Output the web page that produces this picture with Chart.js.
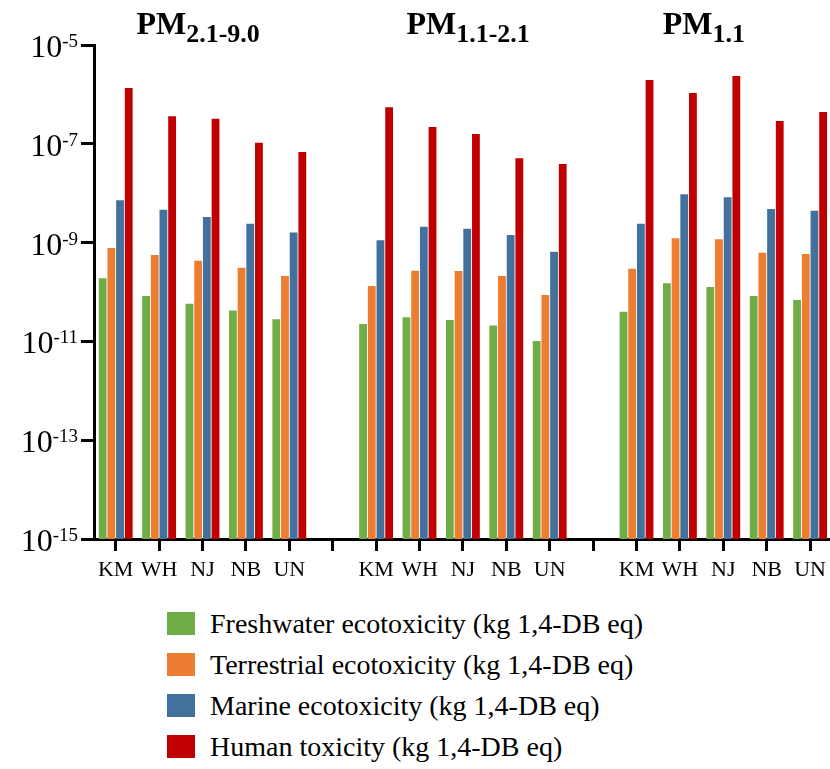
<!DOCTYPE html>
<html>
<head>
<meta charset="utf-8">
<script src="https://cdn.jsdelivr.net/npm/chart.js@4"></script>
<style>
  html, body { margin: 0; padding: 0; background: #fff; overflow: hidden; }
  #wrap { position: relative; width: 832px; height: 769px; }
  #legend { position: absolute; left: 167px; top: 603px; margin: 0; padding: 0; list-style: none; }
  #legend li {
    display: flex; align-items: center; height: 41px;
    font-family: "Liberation Serif", "Times New Roman", Times, serif;
    font-size: 28px; color: #000; white-space: nowrap;
  }
  #legend span.box { display: inline-block; width: 28px; height: 23px; margin-right: 15px; }
</style>
</head>
<body>
<div id="wrap">
  <canvas id="myChart" width="832" height="600"></canvas>
  <ul id="legend"></ul>
</div>
<script>
(function () {
  "use strict";

  // sites in each size fraction, and the fractions
  const sites = ["KM", "WH", "NJ", "NB", "UN"];
  const fractionSubs = ["2.1-9.0", "1.1-2.1", "1.1"];

  // values per series: PM2.1-9.0 (5), PM1.1-2.1 (5), PM1.1 (5)
  const freshwater = [1.9e-10, 8.3e-11, 5.8e-11, 4.2e-11, 2.8e-11,
                      2.24e-11, 3.1e-11, 2.7e-11, 2.1e-11, 1.02e-11,
                      4.0e-11, 1.5e-10, 1.26e-10, 8.3e-11, 6.9e-11];
  const terrestrial = [7.8e-10, 5.6e-10, 4.3e-10, 3.1e-10, 2.1e-10,
                       1.32e-10, 2.7e-10, 2.65e-10, 2.1e-10, 8.7e-11,
                       2.95e-10, 1.23e-9, 1.17e-9, 6.2e-10, 5.9e-10];
  const marine = [7.2e-9, 4.6e-9, 3.3e-9, 2.4e-9, 1.6e-9,
                  1.12e-9, 2.1e-9, 1.9e-9, 1.42e-9, 6.5e-10,
                  2.4e-9, 9.5e-9, 8.3e-9, 4.8e-9, 4.4e-9];
  const human = [1.35e-6, 3.6e-7, 3.2e-7, 1.05e-7, 6.8e-8,
                 5.5e-7, 2.2e-7, 1.58e-7, 5.1e-8, 3.9e-8,
                 1.96e-6, 1.07e-6, 2.36e-6, 2.9e-7, 4.4e-7];

  const yTicks = [1e-5, 1e-7, 1e-9, 1e-11, 1e-13, 1e-15];

  const seriesLabels = [
    "Freshwater ecotoxicity (kg 1,4-DB eq)",
    "Terrestrial ecotoxicity (kg 1,4-DB eq)",
    "Marine ecotoxicity (kg 1,4-DB eq)",
    "Human toxicity (kg 1,4-DB eq)",
  ];
  const seriesColors = ["#70ad47", "#ed7d31", "#41719c", "#c00000"];

  // one empty slot between the fractions
  const labels = [];
  fractionSubs.forEach((f, g) => {
    if (g > 0) labels.push("");
    sites.forEach((s) => labels.push(s));
  });
  function spaced(values) {
    const out = [];
    values.forEach((v, i) => {
      if (i > 0 && i % sites.length === 0) out.push(null);
      out.push(v);
    });
    return out;
  }

  const serif = '"Liberation Serif", "Times New Roman", Times, serif';

  // superscript tick labels and the PM titles
  const textPlugin = {
    id: "textPlugin",
    afterDraw(chart) {
      const ctx = chart.ctx;
      const y = chart.scales.y;
      const x = chart.scales.x;
      ctx.save();
      ctx.fillStyle = "#000";
      ctx.textBaseline = "alphabetic";
      ctx.textAlign = "left";
      yTicks.forEach((v) => {
        const py = y.getPixelForValue(v);
        const exp = "-" + Math.round(-Math.log10(v));
        ctx.font = "19px " + serif;
        const w2 = ctx.measureText(exp).width;
        ctx.font = "32px " + serif;
        const w1 = ctx.measureText("10").width;
        const x0 = 78 - w2 - w1;
        ctx.fillText("10", x0, py + 12);
        ctx.font = "19px " + serif;
        ctx.fillText(exp, x0 + w1, py + 2);
      });
      const anchors = [1.9, 8.12, 13.55];
      fractionSubs.forEach((sub, g) => {
        const a = anchors[g];
        const i0 = Math.floor(a);
        const p0 = x.getPixelForValue(i0);
        const p1 = x.getPixelForValue(i0 + 1);
        const cx = p0 + (p1 - p0) * (a - i0);
        ctx.font = "bold 32px " + serif;
        const wm = ctx.measureText("PM").width;
        ctx.font = "bold 26px " + serif;
        const ws = ctx.measureText(sub).width;
        const left = cx - (wm + ws) / 2;
        ctx.font = "bold 32px " + serif;
        ctx.fillText("PM", left, 34);
        ctx.font = "bold 26px " + serif;
        ctx.fillText(sub, left + wm, 42);
      });
      ctx.restore();
    },
  };

  const canvas = document.getElementById("myChart");
  const chart = new Chart(canvas.getContext("2d"), {
    type: "bar",
    data: {
      labels: labels,
      datasets: [freshwater, terrestrial, marine, human].map((d, i) => ({
        label: seriesLabels[i],
        data: spaced(d),
        backgroundColor: seriesColors[i],
        categoryPercentage: 0.8,
        barPercentage: 0.9,
      })),
    },
    options: {
      responsive: false,
      animation: false,
      layout: { padding: { top: 45, right: 0, bottom: 0, left: 0 } },
      plugins: {
        legend: { display: false },
        tooltip: { enabled: false },
      },
      scales: {
        x: {
          offset: true,
          grid: {
            offset: false,
            drawOnChartArea: false,
            drawTicks: true,
            tickLength: 12,
            lineWidth: 3,
            color: "#000",
          },
          border: { display: true, width: 3, color: "#000" },
          ticks: {
            autoSkip: false,
            maxRotation: 0,
            padding: 6,
            color: "#000",
            font: { family: serif, size: 22 },
          },
          afterFit(scale) {
            scale.height = 61;
          },
        },
        y: {
          type: "logarithmic",
          min: 1e-15,
          max: 1e-5,
          afterBuildTicks(scale) {
            scale.ticks = yTicks.map((v) => ({ value: v }));
          },
          grid: {
            drawOnChartArea: false,
            drawTicks: true,
            tickLength: 13,
            lineWidth: 3,
            color: "#000",
          },
          border: { display: true, width: 3, color: "#000" },
          ticks: {
            callback: () => "",
          },
          afterFit(scale) {
            scale.width = 94;
          },
        },
      },
    },
    plugins: [textPlugin],
  });

  // legend stacked on the left, as in the figure
  const legend = document.getElementById("legend");
  chart.data.datasets.forEach((ds) => {
    const li = document.createElement("li");
    const box = document.createElement("span");
    box.className = "box";
    box.style.background = ds.backgroundColor;
    li.appendChild(box);
    li.appendChild(document.createTextNode(ds.label));
    legend.appendChild(li);
  });
})();
</script>
</body>
</html>
